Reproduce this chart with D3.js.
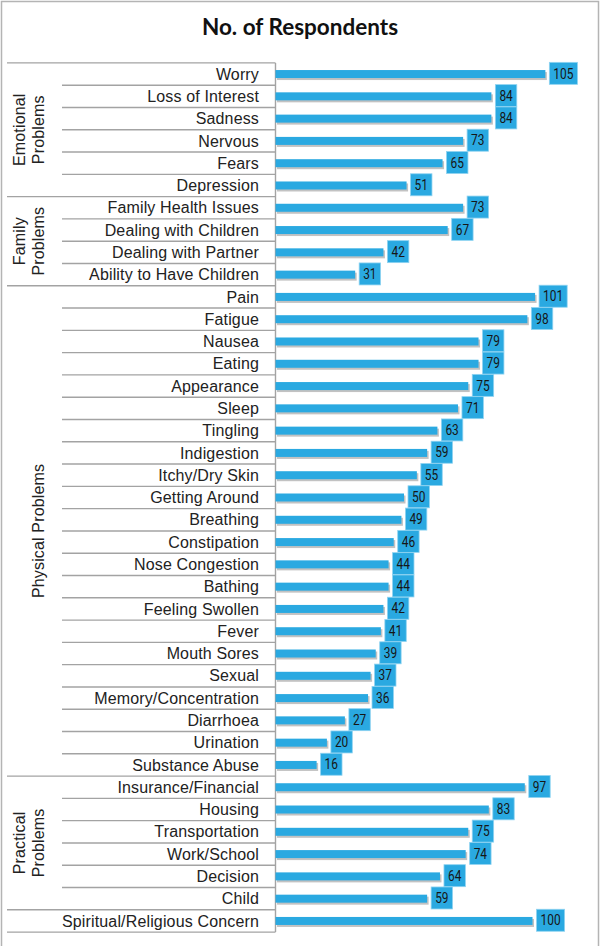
<!DOCTYPE html>
<html>
<head>
<meta charset="utf-8">
<script src="https://cdn.jsdelivr.net/npm/d3@7"></script>
<style>
  body { margin: 0; background: #fff; }
  svg { display: block; }
</style>
</head>
<body>
<div id="chart"></div>
<script>
// category names in the order drawn (top to bottom)
const categories = [
  "Worry", "Loss of Interest", "Sadness", "Nervous", "Fears", "Depression",
  "Family Health Issues", "Dealing with Children", "Dealing with Partner", "Ability to Have Children",
  "Pain", "Fatigue", "Nausea", "Eating", "Appearance", "Sleep", "Tingling", "Indigestion",
  "Itchy/Dry Skin", "Getting Around", "Breathing", "Constipation", "Nose Congestion", "Bathing",
  "Feeling Swollen", "Fever", "Mouth Sores", "Sexual", "Memory/Concentration", "Diarrhoea",
  "Urination", "Substance Abuse",
  "Insurance/Financial", "Housing", "Transportation", "Work/School", "Decision", "Child",
  "Spiritual/Religious Concern"
];
const respondents = [
  105, 84, 84, 73, 65, 51,
  73, 67, 42, 31,
  101, 98, 79, 79, 75, 71, 63, 59, 55, 50, 49, 46, 44, 44, 42, 41, 39, 37, 36, 27, 20, 16,
  97, 83, 75, 74, 64, 59,
  100
];
// groups: label lines, first category, last category
const groupLabels = [["Emotional", "Problems"], ["Family", "Problems"], ["Physical Problems"], ["Practical", "Problems"]];
const groupStart = ["Worry", "Family Health Issues", "Pain", "Insurance/Financial"];
const groupEnd = ["Depression", "Ability to Have Children", "Substance Abuse", "Child"];

const width = 600, height = 946;
const axisX = 275.5;
const blue = "#2aa9e1";

const svg = d3.select("#chart").append("svg")
  .attr("width", width)
  .attr("height", height);

// frame (no bottom edge visible)
svg.append("path")
  .attr("d", `M1.5,${height} V1.5 H${width - 1.5} V${height}`)
  .attr("fill", "none").attr("stroke", "#b4b4b4").attr("stroke-width", 1.5);

svg.append("text")
  .attr("x", 300).attr("y", 35)
  .attr("text-anchor", "middle")
  .attr("font-family", "Lato, 'Open Sans', sans-serif")
  .attr("font-weight", "bold")
  .attr("font-size", 22.5)
  .attr("fill", "#111")
  .text("No. of Respondents");

const y = d3.scaleBand().domain(categories).range([62.9, 932.1]).padding(0);
const x = d3.scaleLinear().domain([0, 120]).range([axisX, axisX + 120 * 2.57]);

const data = categories.map((c, i) => ({ name: c, value: respondents[i] }));
const grouped = new Set(groupStart.concat(["Spiritual/Religious Concern"]));

// row separator lines
const lineColor = "#a3a3a3";
const rows = svg.append("g");
rows.selectAll("line.row")
  .data(data)
  .join("line")
  .attr("class", "row")
  .attr("x1", d => grouped.has(d.name) ? 7 : 62)
  .attr("x2", axisX)
  .attr("y1", d => y(d.name))
  .attr("y2", d => y(d.name))
  .attr("stroke", lineColor).attr("stroke-width", 1.4);
rows.append("line")
  .attr("x1", 7).attr("x2", axisX)
  .attr("y1", y.range()[1]).attr("y2", y.range()[1])
  .attr("stroke", lineColor).attr("stroke-width", 1.4);
rows.append("line")
  .attr("x1", axisX).attr("x2", axisX)
  .attr("y1", y.range()[0]).attr("y2", y.range()[1])
  .attr("stroke", lineColor).attr("stroke-width", 1.4);

// category labels
svg.append("g")
  .selectAll("text")
  .data(data)
  .join("text")
  .attr("x", 259)
  .attr("y", d => y(d.name) + y.bandwidth() / 2)
  .attr("dy", "0.35em")
  .attr("text-anchor", "end")
  .attr("font-family", "'Liberation Sans', Arial, sans-serif")
  .attr("font-size", 16)
  .attr("letter-spacing", 0.15)
  .attr("fill", "#222")
  .text(d => d.name);

// group labels, rotated
groupLabels.forEach((lines, i) => {
  const cy = (y(groupStart[i]) + y(groupEnd[i]) + y.bandwidth()) / 2;
  lines.forEach((ln, j) => {
    const cx = lines.length === 1 ? 38 : 19 + j * 19;
    svg.append("text")
      .attr("transform", `translate(${cx},${cy}) rotate(-90)`)
      .attr("text-anchor", "middle")
      .attr("dy", "0.35em")
      .attr("font-family", "'Liberation Sans', Arial, sans-serif")
      .attr("font-size", 16)
      .attr("letter-spacing", 0.15)
      .attr("fill", "#222")
      .text(ln);
  });
});

// bars with shadow
const barH = 8;
const bars = svg.append("g");
bars.selectAll("rect.shadow")
  .data(data)
  .join("rect")
  .attr("class", "shadow")
  .attr("x", x(0) + 1.5)
  .attr("y", d => y(d.name) + y.bandwidth() / 2 - barH / 2 + 2)
  .attr("width", d => x(d.value) - x(0))
  .attr("height", barH)
  .attr("fill", "#9a9a9a")
  .attr("opacity", 0.6);
bars.selectAll("rect.bar")
  .data(data)
  .join("rect")
  .attr("class", "bar")
  .attr("x", x(0))
  .attr("y", d => y(d.name) + y.bandwidth() / 2 - barH / 2)
  .attr("width", d => x(d.value) - x(0))
  .attr("height", barH)
  .attr("fill", blue);

// value boxes
const labels = svg.append("g")
  .selectAll("g")
  .data(data)
  .join("g")
  .attr("transform", d => `translate(${x(d.value) + 4},${y(d.name) + y.bandwidth() / 2 - 0.7})`);

labels.append("rect")
  .attr("y", -11)
  .attr("height", 22)
  .attr("width", d => String(d.value).length * 6.7 + 8)
  .attr("fill", blue)
  .attr("stroke", "#8fd3f1")
  .attr("stroke-width", 0.8);

labels.append("text")
  .attr("x", 4)
  .attr("dy", "0.36em")
  .attr("font-family", "Roboto, 'Open Sans', sans-serif")
  .attr("font-size", 14.5)
  .attr("textLength", d => String(d.value).length * 6.7)
  .attr("lengthAdjust", "spacingAndGlyphs")
  .attr("fill", "#161616")
  .text(d => d.value);
</script>
</body>
</html>
